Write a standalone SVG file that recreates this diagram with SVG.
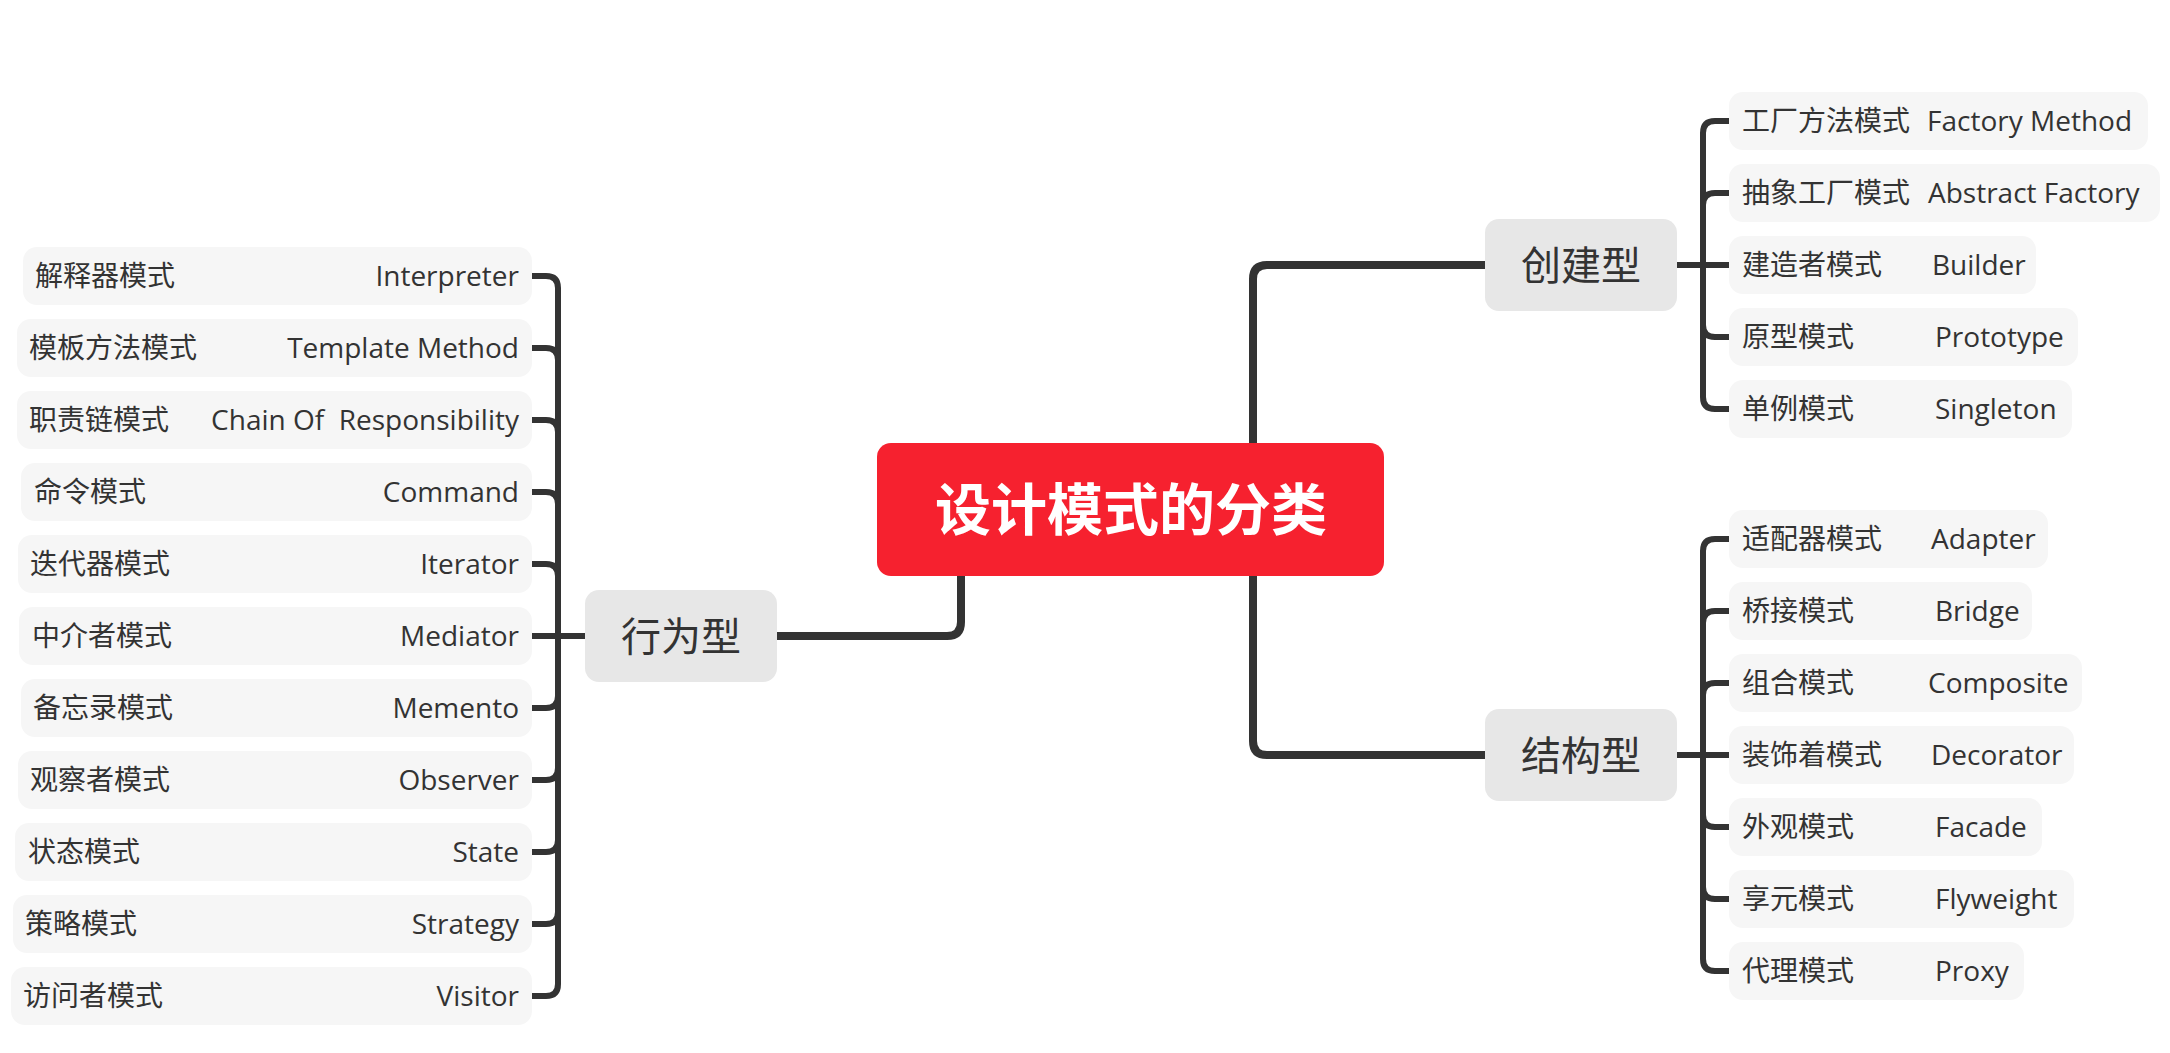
<svg xmlns="http://www.w3.org/2000/svg" width="2170" height="1053" viewBox="0 0 2170 1053">
<style>
.bg{fill:#ffffff}
.root rect{fill:#f6212f}
.root text{fill:#ffffff;font-family:"Noto Sans CJK SC","Noto Sans",sans-serif;font-size:56px;font-weight:bold;text-anchor:middle}
.main rect{fill:#e7e7e7}
.main text{fill:#333333;font-family:"Noto Sans CJK SC","Noto Sans",sans-serif;font-size:40px;text-anchor:middle}
.leaf rect{fill:#f6f6f6}
.leaf text{fill:#333333;font-family:"Open Sans","Noto Sans CJK SC",sans-serif;font-size:28px}
.leaf text.cn{font-family:"Noto Sans CJK SC",sans-serif}
.leaf text.en{white-space:pre}
.leaf text.r{text-anchor:end}
.conn path{fill:none;stroke:#333333;stroke-linecap:butt;stroke-linejoin:round}
.conn .m{stroke-width:8}
.conn .c{stroke-width:6}
</style>
<rect class="bg" x="0" y="0" width="2170" height="1053"/>
<g id="connectors" class="conn">
  <path class="m" d="M1485 265 H1267 Q1253 265 1253 279 V741 Q1253 755 1267 755 H1485"/>
  <path class="m" d="M961 520 V622 Q961 636 947 636 H777"/>
  <path class="c" d="M1677 265 H1703 V133 Q1703 121 1715 121 H1729"/>
  <path class="c" d="M1703 265 V205 Q1703 193 1715 193 H1729"/>
  <path class="c" d="M1677 265 H1729"/>
  <path class="c" d="M1703 265 V325 Q1703 337 1715 337 H1729"/>
  <path class="c" d="M1703 265 V397 Q1703 409 1715 409 H1729"/>
  <path class="c" d="M1677 755 H1703 V551 Q1703 539 1715 539 H1729"/>
  <path class="c" d="M1703 755 V623 Q1703 611 1715 611 H1729"/>
  <path class="c" d="M1703 755 V695 Q1703 683 1715 683 H1729"/>
  <path class="c" d="M1677 755 H1729"/>
  <path class="c" d="M1703 755 V815 Q1703 827 1715 827 H1729"/>
  <path class="c" d="M1703 755 V887 Q1703 899 1715 899 H1729"/>
  <path class="c" d="M1703 755 V959 Q1703 971 1715 971 H1729"/>
  <path class="c" d="M585 636 H558 V288 Q558 276 546 276 H532"/>
  <path class="c" d="M558 636 V360 Q558 348 546 348 H532"/>
  <path class="c" d="M558 636 V432 Q558 420 546 420 H532"/>
  <path class="c" d="M558 636 V504 Q558 492 546 492 H532"/>
  <path class="c" d="M558 636 V576 Q558 564 546 564 H532"/>
  <path class="c" d="M585 636 H532"/>
  <path class="c" d="M558 636 V696 Q558 708 546 708 H532"/>
  <path class="c" d="M558 636 V768 Q558 780 546 780 H532"/>
  <path class="c" d="M558 636 V840 Q558 852 546 852 H532"/>
  <path class="c" d="M558 636 V912 Q558 924 546 924 H532"/>
  <path class="c" d="M585 636 H558 V984 Q558 996 546 996 H532"/>
</g>
<g id="root" class="root"><rect x="877" y="443" width="507" height="133" rx="14"/><text x="1131" y="530">设计模式的分类</text></g>
<g id="creational" class="main"><rect x="1485" y="219" width="192" height="92" rx="14"/><text x="1581" y="280">创建型</text></g>
<g id="structural" class="main"><rect x="1485" y="709" width="192" height="92" rx="14"/><text x="1581" y="770">结构型</text></g>
<g id="behavioral" class="main"><rect x="585" y="590" width="192" height="92" rx="14"/><text x="681" y="651">行为型</text></g>

<g id="factory-method" class="leaf"><rect x="1729" y="92" width="419" height="58" rx="14"/><text class="cn" x="1742" y="131">工厂方法模式</text><text class="en" x="1927" y="131">Factory Method</text></g>
<g id="abstract-factory" class="leaf"><rect x="1729" y="164" width="431" height="58" rx="14"/><text class="cn" x="1742" y="203">抽象工厂模式</text><text class="en" x="1928" y="203">Abstract Factory</text></g>
<g id="builder" class="leaf"><rect x="1729" y="236" width="307" height="58" rx="14"/><text class="cn" x="1742" y="275">建造者模式</text><text class="en" x="1932" y="275">Builder</text></g>
<g id="prototype" class="leaf"><rect x="1729" y="308" width="349" height="58" rx="14"/><text class="cn" x="1742" y="347">原型模式</text><text class="en" x="1935" y="347">Prototype</text></g>
<g id="singleton" class="leaf"><rect x="1729" y="380" width="343" height="58" rx="14"/><text class="cn" x="1742" y="419">单例模式</text><text class="en" x="1935" y="419">Singleton</text></g>

<g id="adapter" class="leaf"><rect x="1729" y="510" width="319" height="58" rx="14"/><text class="cn" x="1742" y="549">适配器模式</text><text class="en" x="1931" y="549">Adapter</text></g>
<g id="bridge" class="leaf"><rect x="1729" y="582" width="303" height="58" rx="14"/><text class="cn" x="1742" y="621">桥接模式</text><text class="en" x="1935" y="621">Bridge</text></g>
<g id="composite" class="leaf"><rect x="1729" y="654" width="353" height="58" rx="14"/><text class="cn" x="1742" y="693">组合模式</text><text class="en" x="1928" y="693">Composite</text></g>
<g id="decorator" class="leaf"><rect x="1729" y="726" width="345" height="58" rx="14"/><text class="cn" x="1742" y="765">装饰着模式</text><text class="en" x="1931" y="765">Decorator</text></g>
<g id="facade" class="leaf"><rect x="1729" y="798" width="313" height="58" rx="14"/><text class="cn" x="1742" y="837">外观模式</text><text class="en" x="1935" y="837">Facade</text></g>
<g id="flyweight" class="leaf"><rect x="1729" y="870" width="345" height="58" rx="14"/><text class="cn" x="1742" y="909">享元模式</text><text class="en" x="1935" y="909">Flyweight</text></g>
<g id="proxy" class="leaf"><rect x="1729" y="942" width="295" height="58" rx="14"/><text class="cn" x="1742" y="981">代理模式</text><text class="en" x="1935" y="981">Proxy</text></g>

<g id="interpreter" class="leaf"><rect x="23" y="247" width="509" height="58" rx="14"/><text class="cn" x="35" y="286">解释器模式</text><text class="en r" x="519" y="286">Interpreter</text></g>
<g id="template-method" class="leaf"><rect x="17" y="319" width="515" height="58" rx="14"/><text class="cn" x="29" y="358">模板方法模式</text><text class="en r" x="519" y="358">Template Method</text></g>
<g id="chain" class="leaf"><rect x="17" y="391" width="515" height="58" rx="14"/><text class="cn" x="29" y="430">职责链模式</text><text class="en r" x="519" y="430">Chain Of  Responsibility</text></g>
<g id="command" class="leaf"><rect x="21" y="463" width="511" height="58" rx="14"/><text class="cn" x="34" y="502">命令模式</text><text class="en r" x="519" y="502">Command</text></g>
<g id="iterator" class="leaf"><rect x="18" y="535" width="514" height="58" rx="14"/><text class="cn" x="30" y="574">迭代器模式</text><text class="en r" x="519" y="574">Iterator</text></g>
<g id="mediator" class="leaf"><rect x="19" y="607" width="513" height="58" rx="14"/><text class="cn" x="32" y="646">中介者模式</text><text class="en r" x="519" y="646">Mediator</text></g>
<g id="memento" class="leaf"><rect x="21" y="679" width="511" height="58" rx="14"/><text class="cn" x="33" y="718">备忘录模式</text><text class="en r" x="519" y="718">Memento</text></g>
<g id="observer" class="leaf"><rect x="18" y="751" width="514" height="58" rx="14"/><text class="cn" x="30" y="790">观察者模式</text><text class="en r" x="519" y="790">Observer</text></g>
<g id="state" class="leaf"><rect x="15" y="823" width="517" height="58" rx="14"/><text class="cn" x="28" y="862">状态模式</text><text class="en r" x="519" y="862">State</text></g>
<g id="strategy" class="leaf"><rect x="13" y="895" width="519" height="58" rx="14"/><text class="cn" x="25" y="934">策略模式</text><text class="en r" x="519" y="934">Strategy</text></g>
<g id="visitor" class="leaf"><rect x="11" y="967" width="521" height="58" rx="14"/><text class="cn" x="23" y="1006">访问者模式</text><text class="en r" x="519" y="1006">Visitor</text></g>
</svg>
